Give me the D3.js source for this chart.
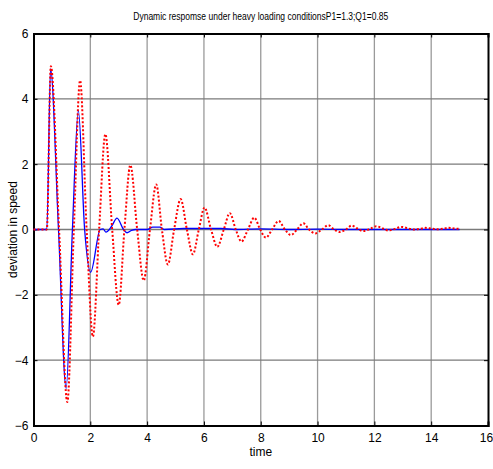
<!DOCTYPE html>
<html>
<head>
    <meta charset="utf-8">
    <title>Dynamic response under heavy loading conditions</title>
    <style>
        body { margin: 0; background: #fff; }
        .narrow { font-family: 'Liberation Sans Narrow', 'Arial Narrow', 'Liberation Sans', sans-serif; }
    </style>
</head>
<body>

<script src="https://d3js.org/d3.v7.min.js"></script>
<script type="text/javascript">

// dotted red response (time, value)
var redTime = [0, 0.47, 0.61, 0.9, 1.19, 1.42, 1.64, 1.87, 2.09, 2.31, 2.53, 2.77, 3.0, 3.2, 3.41, 3.65, 3.88, 4.1, 4.32, 4.52, 4.73, 4.95, 5.18, 5.4, 5.61, 5.82, 6.02, 6.25, 6.47, 6.7, 6.91, 7.12, 7.32, 7.55, 7.77, 7.98, 8.18, 8.4, 8.63, 8.85, 9.06, 9.28, 9.5, 9.7, 9.92, 10.15, 10.38, 10.58, 10.77, 11.0, 11.2, 11.4, 11.6, 11.85, 12.07, 12.3, 12.5, 12.72, 12.95, 13.2, 13.4, 13.6, 13.8, 14.0, 14.2, 14.4, 14.6, 14.8, 15.0];
var redVal  = [0, 0, 5.0, 0, -5.28, 0, 4.56, 0, -3.28, 0, 2.92, 0, -2.31, 0, 1.97, 0, -1.56, 0, 1.38, 0, -1.07, 0, 0.93, 0, -0.76, 0, 0.67, 0, -0.53, 0, 0.5, 0, -0.37, 0, 0.36, 0, -0.25, 0, 0.26, 0, -0.17, 0, 0.19, 0, -0.12, 0, 0.13, 0, -0.08, 0, 0.12, 0.03, -0.05, 0.02, 0.1, 0.03, -0.03, 0.02, 0.08, 0.03, 0, 0.02, 0.05, 0.03, 0.01, 0.02, 0.05, 0.03, 0.02];

// solid blue response
var blueTime = [0, 0.47, 0.6, 0.88, 1.15, 1.37, 1.58, 1.8, 2.01, 2.35, 2.45, 2.55, 2.75, 2.94, 3.17, 3.29, 3.45, 3.6, 4.0, 4.2, 4.45, 4.6, 5.3, 5.8, 6.6, 7.1, 8, 9, 10, 11, 12, 13, 14, 15];
var blueVal  = [0, 0, 4.92, 0, -4.86, 0, 3.64, 0, -1.31, 0, 0.02, -0.08, 0.1, 0.35, 0, -0.1, -0.03, 0, 0, 0.07, 0.07, 0, 0.03, 0.03, 0.03, 0, 0.02, 0, 0.01, 0, 0, 0, 0, 0];

var xTicks = [0, 2, 4, 6, 8, 10, 12, 14, 16];
var yTicks = [-6, -4, -2, 0, 2, 4, 6];

var margin = {top: 33.5, right: 5, bottom: 43.5, left: 33.5},
    width  = 493 - margin.left - margin.right,
    height = 469 - margin.top - margin.bottom;

var x = d3.scaleLinear().domain([0, 16]).range([0, width]);
var y = d3.scaleLinear().domain([-6, 6]).range([height, 0]);

var svg = d3.select("body")
    .append("svg")
    .attr("width", 493)
    .attr("height", 469);

var chart = svg.append("g")
    .attr("transform", "translate(" + margin.left + "," + margin.top + ")");

// grid
chart.selectAll(".vgrid")
    .data(xTicks.slice(1, -1))
    .enter().append("line")
    .attr("x1", function(d) { return x(d); })
    .attr("x2", function(d) { return x(d); })
    .attr("y1", 0).attr("y2", height)
    .style("stroke", "#9a9a9a")
    .style("stroke-width", "1.3px");

chart.selectAll(".hgrid")
    .data(yTicks.slice(1, -1))
    .enter().append("line")
    .attr("x1", 0).attr("x2", width)
    .attr("y1", function(d) { return y(d); })
    .attr("y2", function(d) { return y(d); })
    .style("stroke", "#7a7a7a")
    .style("stroke-width", "1.3px");

// axes
var xAxis = chart.append("g")
    .attr("class", "narrow")
    .attr("transform", "translate(0," + height + ")")
    .call(d3.axisBottom(x).tickValues(xTicks).tickSize(-4).tickPadding(8));

var yAxis = chart.append("g")
    .attr("class", "narrow")
    .call(d3.axisLeft(y).tickValues(yTicks).tickSize(-4).tickPadding(5));

chart.append("g")
    .call(d3.axisTop(x).tickValues(xTicks).tickSize(-4).tickFormat(""));

chart.append("g")
    .attr("transform", "translate(" + width + ",0)")
    .call(d3.axisRight(y).tickValues(yTicks).tickSize(-4).tickFormat(""));

svg.selectAll(".domain").style("stroke", "#000").style("stroke-width", "2px");
svg.selectAll(".tick line").style("stroke", "#000");
svg.selectAll(".tick text")
    .attr("font-family", "'Liberation Sans Narrow', 'Arial Narrow', 'Liberation Sans', sans-serif")
    .attr("font-size", 12)
    .attr("fill", "#000");

// keep the last x label inside the window
xAxis.selectAll(".tick text")
    .filter(function(d) { return d === 16; })
    .attr("dx", "-2");

// lines
var line = d3.line()
    .x(function(d) { return x(d[0]); })
    .y(function(d) { return y(d[1]); })
    .curve(d3.curveMonotoneX);

chart.append("path")
    .datum(d3.zip(blueTime, blueVal))
    .attr("d", line)
    .style("stroke", "#0000ff")
    .style("stroke-width", "1.3px")
    .style("fill", "none");

chart.append("path")
    .datum(d3.zip(redTime, redVal))
    .attr("d", line)
    .style("stroke", "#ff0000")
    .style("stroke-width", "2px")
    .style("stroke-dasharray", "2,2")
    .style("fill", "none");

// labels
svg.append("text")
    .attr("x", margin.left + width / 2)
    .attr("y", 20)
    .attr("text-anchor", "middle")
    .attr("font-family", "'Liberation Sans Narrow', 'Arial Narrow', 'Liberation Sans', sans-serif")
    .attr("font-size", 11)
    .attr("textLength", 255)
    .attr("lengthAdjust", "spacingAndGlyphs")
    .text("Dynamic respomse under heavy loading conditionsP1=1.3;Q1=0.85");

svg.append("text")
    .attr("x", margin.left + width / 2)
    .attr("y", 456)
    .attr("text-anchor", "middle")
    .attr("font-family", "'Liberation Sans Narrow', 'Arial Narrow', 'Liberation Sans', sans-serif")
    .attr("font-size", 12)
    .text("time");

svg.append("text")
    .attr("transform", "translate(17," + (margin.top + height / 2) + ") rotate(-90)")
    .attr("text-anchor", "middle")
    .attr("font-family", "'Liberation Sans', Arial, sans-serif")
    .attr("font-size", 12)
    .text("deviation in speed");

</script>
</body>
</html>
